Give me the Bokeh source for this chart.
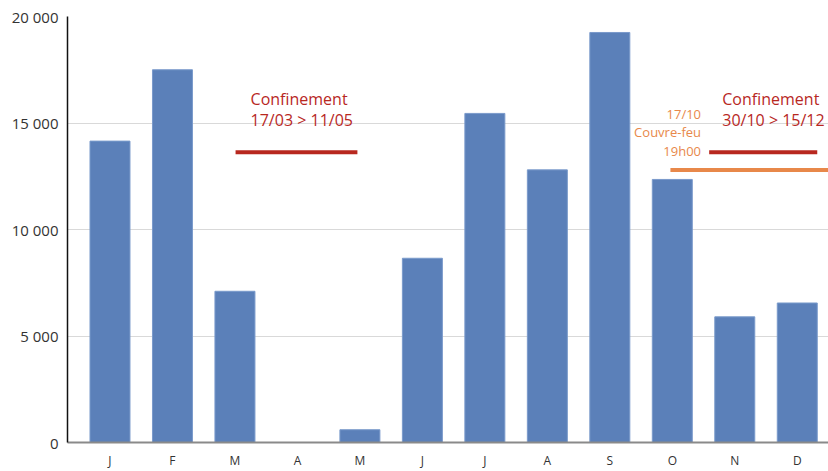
from bokeh.plotting import figure
from bokeh.models import ColumnDataSource, FixedTicker, Range1d
from bokeh.core.properties import value
from bokeh.embed import file_html
from bokeh.resources import INLINE

months = ["J", "F", "M", "A", "M", "J", "J", "A", "S", "O", "N", "D"]
counts = [14150, 17500, 7100, 0, 600, 8650, 15450, 12800, 19250, 12350, 5900, 6550]
y_ticks = [0, 5000, 10000, 15000, 20000]
y_tick_labels = ["0", "5 000", "10 000", "15 000", "20 000"]

# annotation periods (x in month index units, y in count units)
lock_x0 = [2.01, 9.59]
lock_x1 = [3.96, 11.32]
lock_y = [13630, 13630]
curfew_x0 = [8.97]
curfew_x1 = [11.5]
curfew_y = [12790]
lock_text = ["Confinement", "17/03 > 11/05", "Confinement", "30/10 > 15/12"]
lock_text_x = [2.25, 2.25, 9.8, 9.8]
lock_text_y = [16110, 15130, 16110, 15130]
curfew_text = ["17/10", "Couvre-feu", "19h00"]
curfew_text_x = [9.46, 9.46, 9.46]
curfew_text_y = [15410, 14570, 13680]

FONT = "Open Sans"

p = figure(width=828, height=471, output_backend="svg", toolbar_location=None,
           x_range=Range1d(-0.68, 11.5), y_range=Range1d(0, 20000),
           min_border_left=67, min_border_right=0, min_border_top=16, min_border_bottom=26)
p.outline_line_color = None
p.background_fill_color = "white"

src = ColumnDataSource(dict(x=list(range(len(months))), top=counts))
p.vbar(x="x", top="top", width=0.64, source=src, fill_color="#5b80b9", line_color="#7a9acb", line_width=1)

p.segment(x0=lock_x0, x1=lock_x1, y0=lock_y, y1=lock_y, line_color="#b8281f", line_width=4)
p.segment(x0=curfew_x0, x1=curfew_x1, y0=curfew_y, y1=curfew_y, line_color="#e8884a", line_width=4)

p.text(x=lock_text_x, y=lock_text_y, text=lock_text, text_color="#b8281f",
       text_font=value(FONT), text_font_size="16px", text_baseline="middle", text_align="left")
p.text(x=curfew_text_x, y=curfew_text_y, text=curfew_text, text_color="#e8884a",
       text_font=value(FONT), text_font_size="13px", text_baseline="middle", text_align="right")

p.xgrid.grid_line_color = None
p.ygrid.grid_line_color = "#d9d9d9"
p.ygrid.grid_line_width = 1
p.yaxis.ticker = FixedTicker(ticks=y_ticks)
p.yaxis.major_label_overrides = {t: l for t, l in zip(y_ticks, y_tick_labels)}
p.xaxis.ticker = FixedTicker(ticks=list(range(len(months))))
p.xaxis.major_label_overrides = {i: m for i, m in enumerate(months)}

for ax in (p.xaxis[0], p.yaxis[0]):
    ax.major_tick_line_color = None
    ax.minor_tick_line_color = None
    ax.major_tick_out = 0
    ax.major_tick_in = 0
    ax.minor_tick_out = 0
    ax.minor_tick_in = 0
    ax.major_label_text_font = FONT
    ax.major_label_text_color = "#333333"
p.yaxis.axis_line_color = "#111111"
p.yaxis.axis_line_width = 1.5
p.yaxis.major_label_text_font_size = "15px"
p.yaxis.major_label_standoff = 9
p.xaxis.axis_line_color = "#8a8a8a"
p.xaxis.axis_line_width = 2
p.xaxis.major_label_text_font_size = "12px"
p.xaxis.major_label_standoff = 9

open("out.html", "w").write(file_html(p, INLINE))
